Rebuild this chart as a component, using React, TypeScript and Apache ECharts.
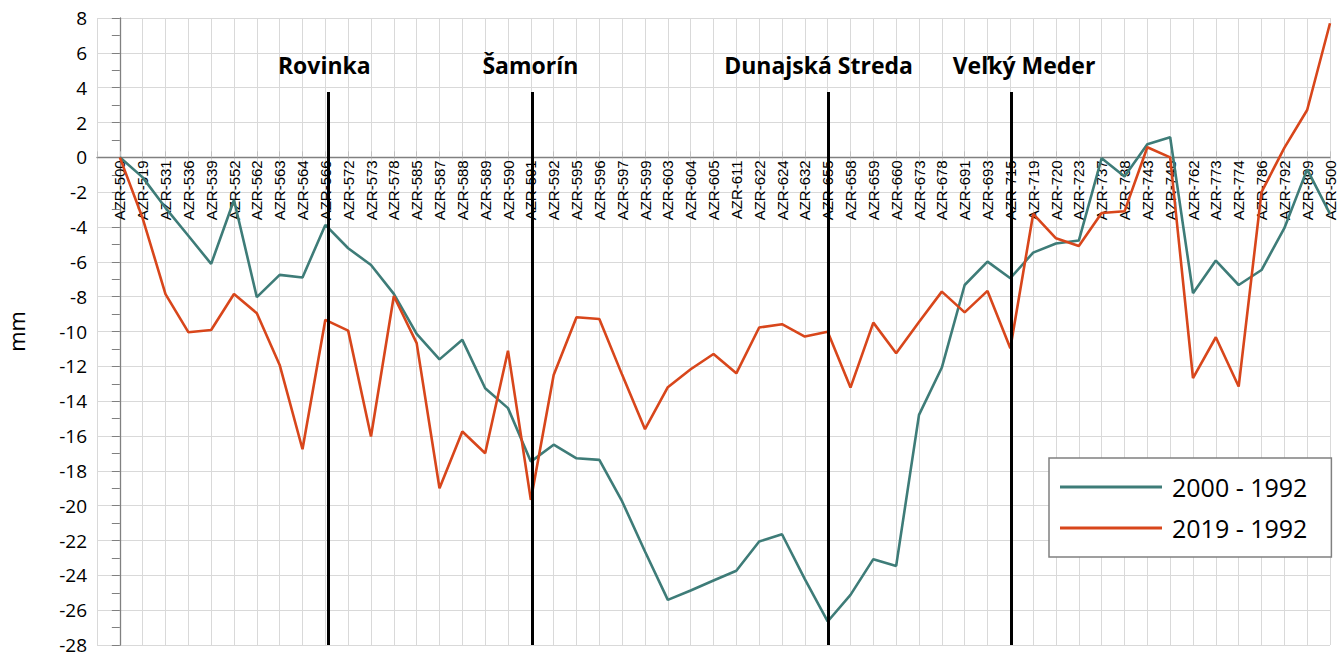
import React, { useEffect, useRef } from "react";
import * as echarts from "echarts";

const categories = [
  "AZR-500", "AZR-519", "AZR-531", "AZR-536", "AZR-539", "AZR-552", "AZR-562", "AZR-563", "AZR-564", "AZR-566",
  "AZR-572", "AZR-573", "AZR-578", "AZR-585", "AZR-587", "AZR-588", "AZR-589", "AZR-590", "AZR-591", "AZR-592",
  "AZR-595", "AZR-596", "AZR-597", "AZR-599", "AZR-603", "AZR-604", "AZR-605", "AZR-611", "AZR-622", "AZR-624",
  "AZR-632", "AZR-655", "AZR-658", "AZR-659", "AZR-660", "AZR-673", "AZR-678", "AZR-691", "AZR-693", "AZR-715",
  "AZR-719", "AZR-720", "AZR-723", "AZR-737", "AZR-738", "AZR-743", "AZR-748", "AZR-762", "AZR-773", "AZR-774",
  "AZR-786", "AZR-792", "AZR-809", "AZR-500",
];

const series2000 = [
  0, -1.15, -2.9, -4.5, -6.12, -2.45, -8.03, -6.75, -6.9, -3.88,
  -5.22, -6.18, -7.84, -10.14, -11.6, -10.48, -13.26, -14.4, -17.47, -16.5,
  -17.28, -17.37, -19.76, -22.63, -25.41, -24.87, -24.3, -23.74, -22.06, -21.64,
  -24.22, -26.65, -25.12, -23.07, -23.46, -14.79, -12.07, -7.33, -5.99, -6.94,
  -5.47, -4.95, -4.78, -0.05, -1.1, 0.75, 1.15, -7.8, -5.93, -7.33,
  -6.47, -4.07, -0.69, -3.25,
];

const series2019 = [
  0, -3.5, -7.85, -10.04, -9.91, -7.85, -8.95, -11.92, -16.76, -9.33,
  -9.95, -16.03, -7.96, -10.67, -19.0, -15.74, -16.99, -11.1, -19.67, -12.5,
  -9.18, -9.28, -12.49, -15.61, -13.2, -12.17, -11.29, -12.4, -9.77, -9.58,
  -10.29, -10.02, -13.22, -9.49, -11.25, -9.45, -7.71, -8.9, -7.67, -10.96,
  -3.25, -4.65, -5.09, -3.2, -3.1, 0.58, 0.0, -12.68, -10.33, -13.16,
  -2.0, 0.54, 2.72, 7.7,
];

const seriesNames = ["2000 - 1992", "2019 - 1992"];
const locations = ["Rovinka", "Šamorín", "Dunajská Streda", "Veľký Meder"];
const locationIndex = [9.13, 18.07, 31.04, 39.03];
const locationTop = 3.75;
const yMin = -28;
const yMax = 8;
const yInterval = 2;

const W = 1337;
const H = 655;
const GRID_LEFT = 97;
const GRID_RIGHT = 7;
const GRID_TOP = 18;
const GRID_BOTTOM = 10;

export default function App() {
  const ref = useRef<HTMLDivElement>(null);

  useEffect(() => {
    if (!ref.current) return;
    const chart = echarts.init(ref.current, null, { renderer: "svg" });
    const plotH = H - GRID_TOP - GRID_BOTTOM;
    const zeroOffset = ((yMax - 0) / (yMax - yMin)) * plotH;
    const xMin = -1;
    const xMax = categories.length - 1;
    const option: any = {
      animation: false,
      backgroundColor: "#ffffff",
      grid: [
        { left: GRID_LEFT, right: GRID_RIGHT, top: GRID_TOP, bottom: GRID_BOTTOM, containLabel: false, outerBoundsMode: "none" },
        { left: GRID_LEFT, right: GRID_RIGHT, top: GRID_TOP, height: zeroOffset, containLabel: false, outerBoundsMode: "none" },
      ],
      xAxis: [
        {
          type: "value",
          gridIndex: 0,
          min: xMin,
          max: xMax,
          interval: 1,
          axisLine: { show: true, onZero: true, lineStyle: { color: "#808080", width: 1.3 } },
          axisTick: { show: false },
          axisLabel: { show: false },
          splitLine: { show: true, lineStyle: { color: "#d9d9d9", width: 1 } },
        },
        {
          type: "value",
          gridIndex: 1,
          position: "bottom",
          min: xMin,
          max: xMax,
          interval: 1,
          axisLine: { show: false, onZero: false },
          axisTick: { show: true, inside: true, length: 6, lineStyle: { color: "#bfbfbf" } },
          axisLabel: {
            rotate: 90,
            margin: 3,
            fontSize: 15,
            fontFamily: "Liberation Sans",
            color: "#000",
            formatter: (v: number) => (Number.isInteger(v) && v >= 0 ? categories[v] ?? "" : ""),
          },
          splitLine: { show: false },
        },
      ],
      yAxis: [
        {
          type: "value",
          gridIndex: 0,
          min: yMin,
          max: yMax,
          interval: yInterval,
          name: "mm",
          nameLocation: "middle",
          nameGap: 70,
          nameTextStyle: { fontSize: 22, fontFamily: "Open Sans", color: "#000" },
          axisLine: { show: true, lineStyle: { color: "#808080", width: 1.3 } },
          axisTick: { show: true, inside: false, length: 8, lineStyle: { color: "#808080" } },
          minorTick: { show: true, splitNumber: 2, length: 8, lineStyle: { color: "#808080" } },
          axisLabel: { fontSize: 19, lineHeight: 17, fontFamily: "Open Sans", color: "#000", margin: 10 },
          splitLine: { show: true, lineStyle: { color: "#d9d9d9", width: 1 } },
        },
        {
          type: "value",
          gridIndex: 1,
          min: 0,
          max: yMax,
          show: false,
        },
      ],
      legend: {
        data: seriesNames,
        orient: "vertical",
        left: 1049,
        top: 458,
        padding: [14, 24, 14, 11],
        itemWidth: 102,
        itemHeight: 3,
        itemGap: 11,
        icon: "rect",
        borderColor: "#808080",
        borderWidth: 1.5,
        backgroundColor: "#ffffff",
        textStyle: { fontSize: 25, fontFamily: "Open Sans", color: "#000", lineHeight: 30, padding: [0, 0, 0, 5] },
      },
      series: [
        {
          name: seriesNames[0],
          type: "line",
          xAxisIndex: 0,
          yAxisIndex: 0,
          data: series2000.map((v, i) => [i, v]),
          symbol: "none",
          color: "#3e7c78",
          lineStyle: { width: 2.6, color: "#3e7c78" },
          z: 2,
        },
        {
          name: seriesNames[1],
          type: "line",
          xAxisIndex: 0,
          yAxisIndex: 0,
          data: series2019.map((v, i) => [i, v]),
          symbol: "none",
          color: "#d8461b",
          lineStyle: { width: 2.6, color: "#d8461b" },
          z: 3,
        },
        {
          name: "locations",
          type: "line",
          xAxisIndex: 0,
          yAxisIndex: 0,
          data: [],
          z: 5,
          markLine: {
            silent: true,
            symbol: "none",
            label: { show: false },
            lineStyle: { color: "#000000", width: 3, type: "solid" },
            data: locationIndex.map((x) => [
              { coord: [x, locationTop] },
              { coord: [x, yMin] },
            ]),
          },
        },
      ],
    };
    chart.setOption(option);
    const labelOffsets = [-4, -2, -10, 13];
    const graphics = locations.map((name, i) => {
      const p = chart.convertToPixel({ xAxisIndex: 0, yAxisIndex: 0 }, [locationIndex[i], locationTop]) as number[];
      return {
        type: "text",
        x: p[0] + labelOffsets[i],
        y: p[1] - 27,
        z: 10,
        style: {
          text: name,
          fontSize: 23,
          fontWeight: "bold",
          fontFamily: "Open Sans",
          fill: "#000",
          align: "center",
          verticalAlign: "middle",
        },
      };
    });
    chart.setOption({ graphic: graphics });
    return () => chart.dispose();
  }, []);

  return (
    <div
      ref={ref}
      style={{ position: "fixed", left: 0, top: 0, width: W, height: H }}
    />
  );
}
